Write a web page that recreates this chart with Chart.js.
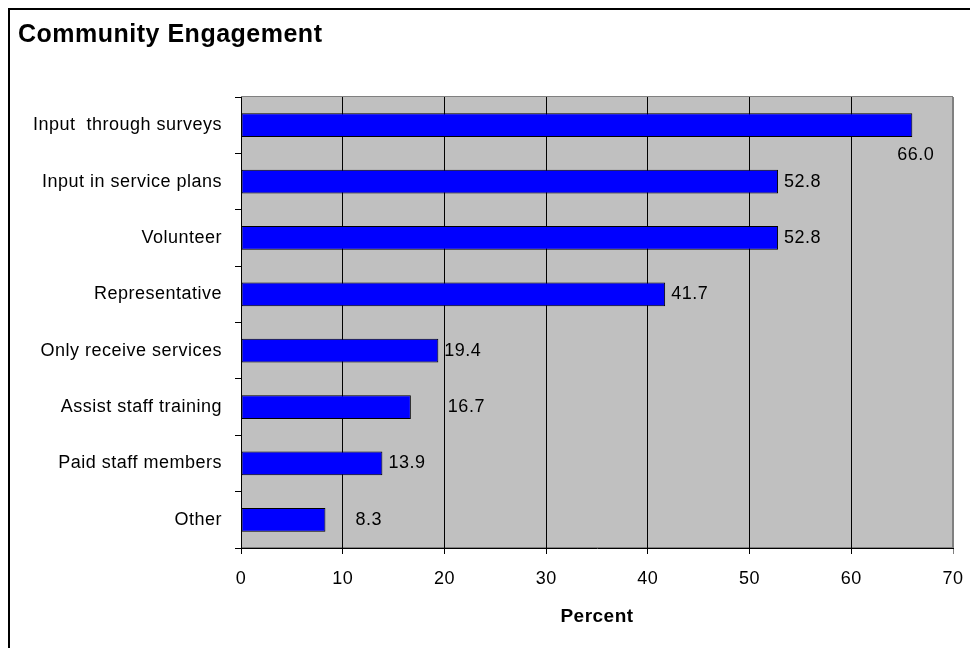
<!DOCTYPE html>
<html>
<head>
<meta charset="utf-8">
<script src="https://cdn.jsdelivr.net/npm/chart.js@4.4.0/dist/chart.umd.min.js"></script>
<style>
  body { margin: 0; background: #fff; overflow: hidden; }
</style>
</head>
<body>
<canvas id="myChart" width="970" height="648"></canvas>
<script>
const categories = [
  "Input  through surveys",
  "Input in service plans",
  "Volunteer",
  "Representative",
  "Only receive services",
  "Assist staff training",
  "Paid staff members",
  "Other",
];
const percentValues = [66.0, 52.8, 52.8, 41.7, 19.4, 16.7, 13.9, 8.3];
const xTickValues = [0, 10, 20, 30, 40, 50, 60, 70];

// a few value labels were dragged around by hand in the original sheet
const labelShift = {
  0: { dx: -15, dy: 30 },
  5: { dx: 37, dy: 0 },
  7: { dx: 30, dy: 0 },
};

Chart.defaults.font.family = "'Liberation Sans', Arial, sans-serif";
Chart.defaults.color = "#000";

const spacing = function (chart) {
  chart.ctx.letterSpacing = "0.5px";
};

const plotBox = {
  id: "plotBox",
  beforeUpdate: spacing,
  beforeDraw(chart) {
    spacing(chart);
    const ctx = chart.ctx;
    const a = chart.chartArea;
    ctx.save();
    // outer frame, only top and left show inside the picture
    ctx.fillStyle = "#000";
    ctx.fillRect(8, 8, chart.width, 2);
    ctx.fillRect(8, 8, 2, chart.height);
    ctx.fillStyle = "#c0c0c0";
    ctx.fillRect(a.left, a.top, a.right - a.left, a.bottom - a.top);
    ctx.strokeStyle = "#808080";
    ctx.lineWidth = 1;
    ctx.strokeRect(a.left + 0.5, a.top - 0.5, a.right - a.left - 1, a.bottom - a.top);
    ctx.restore();
  },
  afterDatasetsDraw(chart) {
    const ctx = chart.ctx;
    const bars = chart.getDatasetMeta(0).data;
    ctx.save();
    ctx.font = "18px 'Liberation Sans', Arial, sans-serif";
    ctx.fillStyle = "#000";
    ctx.textAlign = "left";
    ctx.textBaseline = "middle";
    bars.forEach((bar, i) => {
      const shift = labelShift[i] || { dx: 6, dy: 0 };
      ctx.fillText(percentValues[i].toFixed(1), bar.x + shift.dx, bar.y + shift.dy);
    });
    ctx.restore();
  },
};

const chart = new Chart(document.getElementById("myChart"), {
  type: "bar",
  data: {
    labels: categories,
    datasets: [
      {
        data: percentValues,
        backgroundColor: "#0000ff",
        borderColor: "#000",
        borderWidth: 1,
        borderSkipped: false,
        barPercentage: 0.42,
        categoryPercentage: 1,
      },
    ],
  },
  options: {
    indexAxis: "y",
    responsive: false,
    animation: false,
    layout: { padding: { left: 18, right: 17, top: 0, bottom: 0 } },
    plugins: {
      legend: { display: false },
      tooltip: { enabled: false },
      title: {
        display: true,
        text: "Community Engagement",
        align: "start",
        color: "#000",
        font: { size: 25, weight: "bold" },
        padding: { top: 20, bottom: 47 },
      },
    },
    scales: {
      x: {
        min: 0,
        max: 70,
        afterBuildTicks: (axis) => {
          axis.ticks = xTickValues.map((v) => ({ value: v }));
        },
        ticks: { font: { size: 18 }, padding: 14, maxRotation: 0 },
        grid: {
          color: (c) => (c.tick && c.tick.value === 70 ? "#808080" : "#000"),
          tickLength: 6,
        },
        border: { color: "#000" },
        title: {
          display: true,
          text: "Percent",
          font: { size: 19, weight: "bold" },
          padding: { top: 0, bottom: 20 },
        },
        afterFit: (axis) => {
          axis.height = 100;
          axis.paddingLeft = 0;
          axis.paddingRight = 0;
        },
      },
      y: {
        ticks: { font: { size: 18 }, padding: 13 },
        grid: { drawOnChartArea: false, tickLength: 6, color: "#000" },
        border: { color: "#000" },
        afterFit: (axis) => {
          axis.width = 223;
        },
      },
    },
  },
  plugins: [plotBox],
});
</script>
</body>
</html>
